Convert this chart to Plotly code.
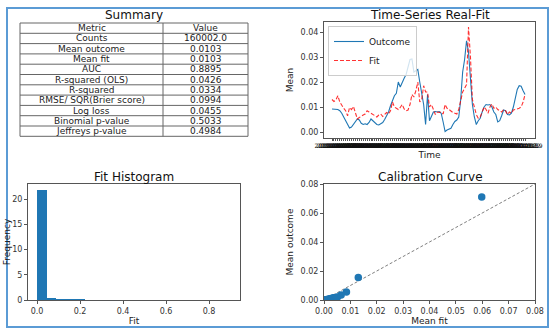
import pandas as pd
import plotly.graph_objects as go

# summary table
metric_names = ["Counts", "Mean outcome", "Mean fit", "AUC", "R-squared (OLS)", "R-squared",
                "RMSE/ SQR(Brier score)", "Log loss", "Binomial p-value", "Jeffreys p-value"]
metric_values = ["160002.0", "0.0103", "0.0103", "0.8895", "0.0426", "0.0334",
                 "0.0994", "0.0455", "0.5033", "0.4984"]
table_header = ["Metric", "Value"]

# time series (rolling means)
outcome = [0.0092, 0.0092, 0.0091, 0.0090, 0.0085, 0.0075, 0.0060, 0.0045, 0.0030, 0.0016,
           0.0020, 0.0030, 0.0040, 0.0052, 0.0048, 0.0035, 0.0030, 0.0033, 0.0030, 0.0038,
           0.0052, 0.0045, 0.0036, 0.0030, 0.0028, 0.0032, 0.0038, 0.0050, 0.0065, 0.0080,
           0.0105, 0.0130, 0.0145, 0.0155, 0.0200, 0.0180, 0.0200, 0.0215, 0.0230, 0.0260,
           0.0290, 0.0292, 0.0240, 0.0245, 0.0250, 0.0200, 0.0160, 0.0110, 0.0030, 0.0150,
           0.0045, 0.0060, 0.0080, 0.0082, 0.0080, 0.0082, 0.0075, 0.0040, 0.0002, 0.0008,
           0.0012, 0.0015, 0.0030, 0.0042, 0.0048, 0.0060, 0.0130, 0.0240, 0.0290, 0.0365,
           0.0320, 0.0200, 0.0110, 0.0060, 0.0030, 0.0045, 0.0055, 0.0080, 0.0100, 0.0110,
           0.0108, 0.0110, 0.0100, 0.0080, 0.0070, 0.0040, 0.0045, 0.0065, 0.0088, 0.0085,
           0.0070, 0.0068, 0.0075, 0.0100, 0.0130, 0.0170, 0.0185, 0.0183, 0.0165, 0.0150]
fit = [0.0130, 0.0122, 0.0128, 0.0145, 0.0120, 0.0105, 0.0095, 0.0085, 0.0065, 0.0098,
       0.0090, 0.0102, 0.0075, 0.0052, 0.0058, 0.0065, 0.0068, 0.0072, 0.0085, 0.0080,
       0.0075, 0.0070, 0.0065, 0.0060, 0.0068, 0.0072, 0.0062, 0.0070, 0.0078, 0.0072,
       0.0085, 0.0120, 0.0100, 0.0095, 0.0090, 0.0098, 0.0110, 0.0092, 0.0085, 0.0088,
       0.0110, 0.0150, 0.0140, 0.0165, 0.0200, 0.0120, 0.0130, 0.0185, 0.0160, 0.0160,
       0.0100, 0.0110, 0.0090, 0.0070, 0.0080, 0.0078, 0.0080, 0.0072, 0.0110, 0.0095,
       0.0090, 0.0082, 0.0078, 0.0075, 0.0072, 0.0090, 0.0125, 0.0160, 0.0175, 0.0190,
       0.0420, 0.0300, 0.0130, 0.0100, 0.0070, 0.0055, 0.0060, 0.0080, 0.0100, 0.0090,
       0.0075, 0.0100, 0.0112, 0.0095, 0.0100, 0.0090, 0.0085, 0.0080, 0.0090, 0.0085,
       0.0070, 0.0080, 0.0075, 0.0088, 0.0090, 0.0092, 0.0095, 0.0100, 0.0120, 0.0150]
times = list(pd.date_range("2019-01-04", periods=len(outcome), freq="W").strftime("%Y-%m-%d"))

# histogram of fit (density, 20 bins)
hist_edges = [round(i * 0.045, 3) for i in range(21)]
hist_density = [21.77, 0.35, 0.08, 0.03, 0.01, 0.0, 0.0, 0.0, 0.0, 0.0,
                0.0, 0.0, 0.0, 0.0, 0.0, 0.0, 0.0, 0.0, 0.0, 0.0]

# calibration curve
calib_fit = [0.0002, 0.0005, 0.0008, 0.0011, 0.0014, 0.0017, 0.0020, 0.0023, 0.0026, 0.0029,
             0.0032, 0.0035, 0.0038, 0.0042, 0.0046, 0.0051, 0.0065, 0.0085, 0.0130, 0.0598]
calib_outcome = [0.0001, 0.0002, 0.0002, 0.0003, 0.0004, 0.0005, 0.0006, 0.0008, 0.0010, 0.0009,
                 0.0012, 0.0014, 0.0015, 0.0016, 0.0018, 0.0020, 0.0035, 0.0055, 0.0155, 0.0710]

W, H = 556, 334
FONT = "DejaVu Sans"
BLUE = "#1f77b4"


def px(x0, x1):
    return [x0 / W, x1 / W]


def py(top, bottom):
    return [1 - bottom / H, 1 - top / H]


fig = go.Figure()

fig.add_trace(go.Scatter(x=times, y=outcome, mode="lines", name="Outcome",
                         line=dict(color=BLUE, width=1.1), xaxis="x", yaxis="y"))
fig.add_trace(go.Scatter(x=times, y=fit, mode="lines", name="Fit",
                         line=dict(color="red", width=1.1, dash="4px,2px"), opacity=0.8,
                         xaxis="x", yaxis="y"))

centers = [(a + b) / 2 for a, b in zip(hist_edges[:-1], hist_edges[1:])]
fig.add_trace(go.Bar(x=centers, y=hist_density, width=0.045, marker=dict(color=BLUE, line_width=0),
                     showlegend=False, xaxis="x2", yaxis="y2"))

fig.add_trace(go.Scatter(x=[0, 0.08], y=[0, 0.08], mode="lines", showlegend=False,
                         line=dict(color="gray", width=1, dash="3px,2px"), xaxis="x3", yaxis="y3"))
fig.add_trace(go.Scatter(x=calib_fit, y=calib_outcome, mode="markers", showlegend=False,
                         marker=dict(color=BLUE, size=7.5), xaxis="x3", yaxis="y3"))

axis_style = dict(showline=True, mirror=True, linecolor="#555", linewidth=1, showgrid=False,
                  zeroline=False, ticks="outside", ticklen=3, tickcolor="#555", automargin=False,
                  tickfont=dict(family=FONT, size=8, color="#333"),
                  title_font=dict(family=FONT, size=9, color="#222"))

fig.update_layout(
    template="none",
    width=W, height=H, margin=dict(l=0, r=0, t=0, b=0, pad=0),
    paper_bgcolor="white", plot_bgcolor="white",
    font=dict(family=FONT, color="#222"),
    xaxis=dict(axis_style, domain=px(324, 535), anchor="y", type="category",
               range=[-4.1, len(times) - 1 + 5.1], tickmode="array", tickvals=times, ticktext=times,
               tickangle=0, ticklen=2, tickfont=dict(family=FONT, size=6, color="#111"),
               title=dict(text="Time", standoff=3)),
    yaxis=dict(axis_style, domain=py(22, 138), anchor="x", range=[-0.0024, 0.044],
               tickvals=[0, 0.01, 0.02, 0.03, 0.04], tickformat=".2f",
               title=dict(text="Mean", standoff=5)),
    xaxis2=dict(axis_style, domain=px(28, 240), anchor="y2", range=[-0.042, 0.944],
                tickvals=[0, 0.2, 0.4, 0.6, 0.8], tickformat=".1f",
                title=dict(text="Fit", standoff=1)),
    yaxis2=dict(axis_style, domain=py(184, 300), anchor="x2", range=[0, 23.0],
                tickvals=[0, 5, 10, 15, 20], title=dict(text="Frequency", standoff=0)),
    xaxis3=dict(axis_style, domain=px(324, 535), anchor="y3", range=[0, 0.08],
                tickvals=[0, 0.01, 0.02, 0.03, 0.04, 0.05, 0.06, 0.07, 0.08], tickformat=".2f",
                title=dict(text="Mean fit", standoff=1)),
    yaxis3=dict(axis_style, domain=py(184, 300), anchor="x3", range=[0, 0.08],
                tickvals=[0, 0.02, 0.04, 0.06, 0.08], tickformat=".2f",
                title=dict(text="Mean outcome", standoff=5)),
    legend=dict(x=328 / W, y=1 - 26 / H, xanchor="left", yanchor="top",
                bgcolor="rgba(255,255,255,0.8)", bordercolor="#ccc", borderwidth=1,
                font=dict(family=FONT, size=9, color="#222"), tracegroupgap=0,
                itemwidth=30),
    bargap=0,
)

# summary table drawn as a grid of cells
tx0, tx1, tx2 = 20, 163, 248
ty0, row_h = 23, 10.3
rows = [table_header] + [[n, v] for n, v in zip(metric_names, metric_values)]
grid = dict(color="#666", width=1)
for i in range(len(rows) + 1):
    y = 1 - (ty0 + i * row_h) / H
    fig.add_shape(type="line", xref="paper", yref="paper", x0=tx0 / W, x1=tx2 / W, y0=y, y1=y, line=grid)
for x in (tx0, tx1, tx2):
    fig.add_shape(type="line", xref="paper", yref="paper", x0=x / W, x1=x / W,
                  y0=1 - ty0 / H, y1=1 - (ty0 + len(rows) * row_h) / H, line=grid)
for i, (name, val) in enumerate(rows):
    yc = 1 - (ty0 + (i + 0.5) * row_h) / H
    for text, xc in ((name, (tx0 + tx1) / 2), (val, (tx1 + tx2) / 2)):
        fig.add_annotation(text=text, x=xc / W, y=yc, xref="paper", yref="paper",
                           showarrow=False, xanchor="center", yanchor="middle",
                           font=dict(family=FONT, size=9, color="#222"))

titles = [("Summary", 134, 15), ("Time-Series Real-Fit", 430, 15),
          ("Fit Histogram", 134, 177), ("Calibration Curve", 430, 177)]
for text, x, y in titles:
    fig.add_annotation(text=text, x=x / W, y=1 - y / H, xref="paper", yref="paper",
                       showarrow=False, xanchor="center", yanchor="middle",
                       font=dict(family=FONT, size=12, color="#111"))

# outer frame of the screenshot
fig.add_shape(type="rect", xref="paper", yref="paper", x0=7 / W, x1=548 / W,
              y0=1 - 327 / H, y1=1 - 8 / H, line=dict(color="#5b9bd5", width=2))

fig.write_html("out.html", config={"displayModeBar": False},
               post_script="document.body.style.margin='0';")
